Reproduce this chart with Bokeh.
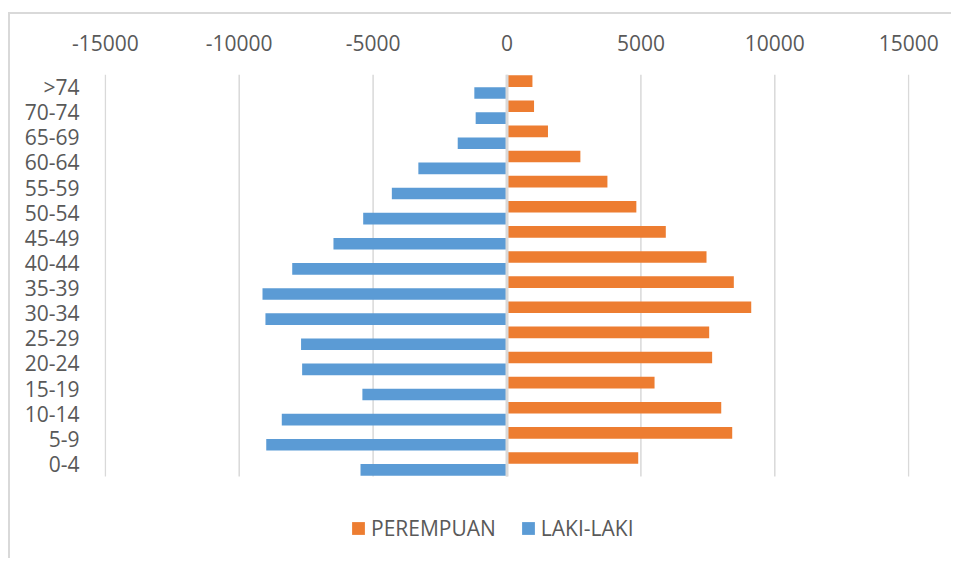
from bokeh.plotting import figure
from bokeh.models import (Range1d, Legend, LegendItem, FixedTicker,
                          ColumnDataSource, NumeralTickFormatter)
from bokeh.embed import file_html
from bokeh.resources import INLINE

age_groups = ["0-4", "5-9", "10-14", "15-19", "20-24", "25-29", "30-34", "35-39",
              "40-44", "45-49", "50-54", "55-59", "60-64", "65-69", "70-74", ">74"]
laki_laki = [5470, 8990, 8410, 5400, 7650, 7690, 9020, 9130,
             8020, 6480, 5370, 4300, 3310, 1840, 1170, 1220]
perempuan = [4900, 8410, 8000, 5510, 7660, 7550, 9120, 8470,
             7450, 5930, 4830, 3750, 2740, 1530, 1010, 950]
x_ticks = [-15000, -10000, -5000, 0, 5000, 10000, 15000]

ORANGE = "#ED7D31"
BLUE = "#5B9BD5"
GRID = "#D9D9D9"
TEXT = "#595959"

n = len(age_groups)
idx = list(range(n))

# layout (pixels)
W, H = 943, 546
MB_TOP, MB_BOTTOM = 60, 4
CAT_AREA_PX = 402                     # height of the category area
frame_h = H - MB_TOP - MB_BOTTOM
unit_px = CAT_AREA_PX / n
y_top = n - 0.5
y_bottom = y_top - frame_h / unit_px  # extra room below the bars for the legend

src = ColumnDataSource(dict(
    pos=idx,
    pos_o=[i + 0.235 for i in idx],
    pos_b=[i - 0.235 for i in idx],
    perempuan=perempuan,
    laki_neg=[-v for v in laki_laki],
))

p = figure(width=W, height=H,
           x_range=Range1d(-15030, 15030),
           y_range=Range1d(y_bottom, y_top),
           x_axis_location="above",
           output_backend="svg", toolbar_location=None,
           min_border_left=94, min_border_right=44,
           min_border_top=MB_TOP, min_border_bottom=MB_BOTTOM,
           margin=(12, 0, 0, 8),
           styles={"border-left": "2px solid #D9D9D9", "border-top": "2px solid #D9D9D9"})

p.outline_line_color = None
p.background_fill_color = "white"
p.border_fill_color = "white"
p.xgrid.grid_line_color = None
p.ygrid.grid_line_color = None

# vertical gridlines limited to the category area
p.segment(x0=x_ticks, x1=x_ticks, y0=[-0.5] * len(x_ticks), y1=[y_top] * len(x_ticks),
          line_color=GRID, line_width=1.5)

r_o = p.hbar(y="pos_o", left=0, right="perempuan",
             height=0.465, fill_color=ORANGE, line_color=None, source=src)
r_b = p.hbar(y="pos_b", left="laki_neg", right=0,
             height=0.465, fill_color=BLUE, line_color=None, source=src)

# category axis line at zero
p.segment(x0=[0], x1=[0], y0=[-0.5], y1=[y_top], line_color=GRID, line_width=3)

xa = p.xaxis[0]
xa.ticker = FixedTicker(ticks=x_ticks)
xa.formatter = NumeralTickFormatter(format="0")
xa.axis_line_color = None
xa.major_tick_line_color = None
xa.minor_tick_line_color = None
xa.major_label_text_font = "Open Sans"
xa.major_label_text_font_size = "21px"
xa.major_label_text_color = TEXT
xa.major_label_standoff = 18

ya = p.yaxis[0]
ya.ticker = FixedTicker(ticks=idx)
ya.major_label_overrides = {i: lab for i, lab in zip(idx, age_groups)}
ya.axis_line_color = None
ya.major_tick_line_color = None
ya.minor_tick_line_color = None
ya.major_label_text_font = "Open Sans"
ya.major_label_text_font_size = "21px"
ya.major_label_text_color = TEXT
ya.major_label_standoff = 19

legend = Legend(items=[LegendItem(label="PEREMPUAN", renderers=[r_o]),
                       LegendItem(label="LAKI-LAKI", renderers=[r_b])],
                orientation="horizontal", location=(246, 14),
                padding=0, margin=0, spacing=24, label_standoff=5,
                glyph_width=16, glyph_height=16,
                border_line_color=None, background_fill_alpha=0,
                label_text_font="Open Sans", label_text_font_size="21px",
                label_text_color=TEXT)
p.add_layout(legend, "center")

open("out.html", "w").write(file_html(p, INLINE))
